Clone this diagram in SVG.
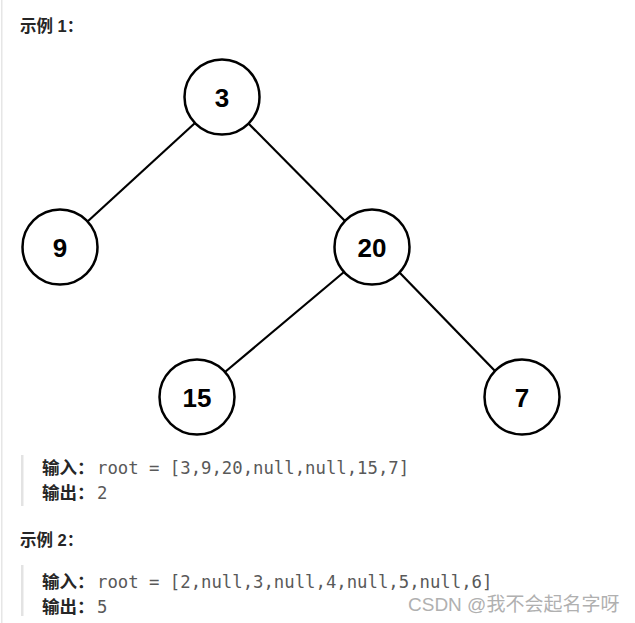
<svg xmlns="http://www.w3.org/2000/svg" width="635" height="623" viewBox="0 0 635 623">
<style>
.node circle{fill:#fff;stroke:#000;stroke-width:2.5}
.node text{font-family:"Liberation Sans",Arial,sans-serif;font-weight:bold;font-size:26px;fill:#000;text-anchor:middle}
.edge{stroke:#000;stroke-width:2.2;fill:none}
.h{font-family:"Liberation Sans","Noto Sans CJK SC",sans-serif;font-weight:bold;font-size:16.5px;fill:#262626}
.lbl{font-family:"Liberation Sans","Noto Sans CJK SC",sans-serif;font-weight:bold;font-size:17.5px;fill:#262626}
.code{font-family:"DejaVu Sans Mono","Liberation Mono",monospace;font-size:17.3px;fill:#595959}
.bar{fill:#e3e3e3}
</style>
<rect width="635" height="623" fill="#fff"/>
<rect x="1" y="0" width="1.5" height="623" fill="#e6e6e6"/>
<text class="h" x="20" y="32">示例 1：</text>
<g id="connectors">
<line class="edge" x1="195" y1="123" x2="87" y2="222"/>
<line class="edge" x1="249" y1="124" x2="345" y2="221"/>
<line class="edge" x1="344" y1="272" x2="225" y2="372"/>
<line class="edge" x1="399" y1="272" x2="496" y2="372"/>
</g>
<g id="n3" class="node"><circle cx="222" cy="97" r="37.5"/><text x="222" y="106.5">3</text></g>
<g id="n9" class="node"><circle cx="60" cy="247" r="37.5"/><text x="60" y="256.5">9</text></g>
<g id="n20" class="node"><circle cx="372" cy="247" r="37.5"/><text x="372" y="256.5">20</text></g>
<g id="n15" class="node"><circle cx="197" cy="397" r="37.5"/><text x="197" y="406.5">15</text></g>
<g id="n7" class="node"><circle cx="522" cy="397" r="37.5"/><text x="522" y="406.5">7</text></g>
<rect class="bar" x="21" y="455" width="2.5" height="51"/>
<text class="lbl" x="42" y="474">输入：</text>
<text class="code" x="97" y="474">root = [3,9,20,null,null,15,7]</text>
<text class="lbl" x="42" y="499">输出：</text>
<text class="code" x="97" y="499">2</text>
<text class="h" x="20" y="546">示例 2：</text>
<rect class="bar" x="21" y="565" width="2.5" height="51"/>
<text class="lbl" x="42" y="588">输入：</text>
<text class="code" x="97" y="588">root = [2,null,3,null,4,null,5,null,6]</text>
<text class="lbl" x="42" y="613">输出：</text>
<text class="code" x="97" y="613">5</text>
<text x="408" y="611" font-family="'Liberation Sans','Noto Sans CJK SC',sans-serif" font-size="19" fill="#b0b0b0">CSDN @我不会起名字呀</text>
</svg>
